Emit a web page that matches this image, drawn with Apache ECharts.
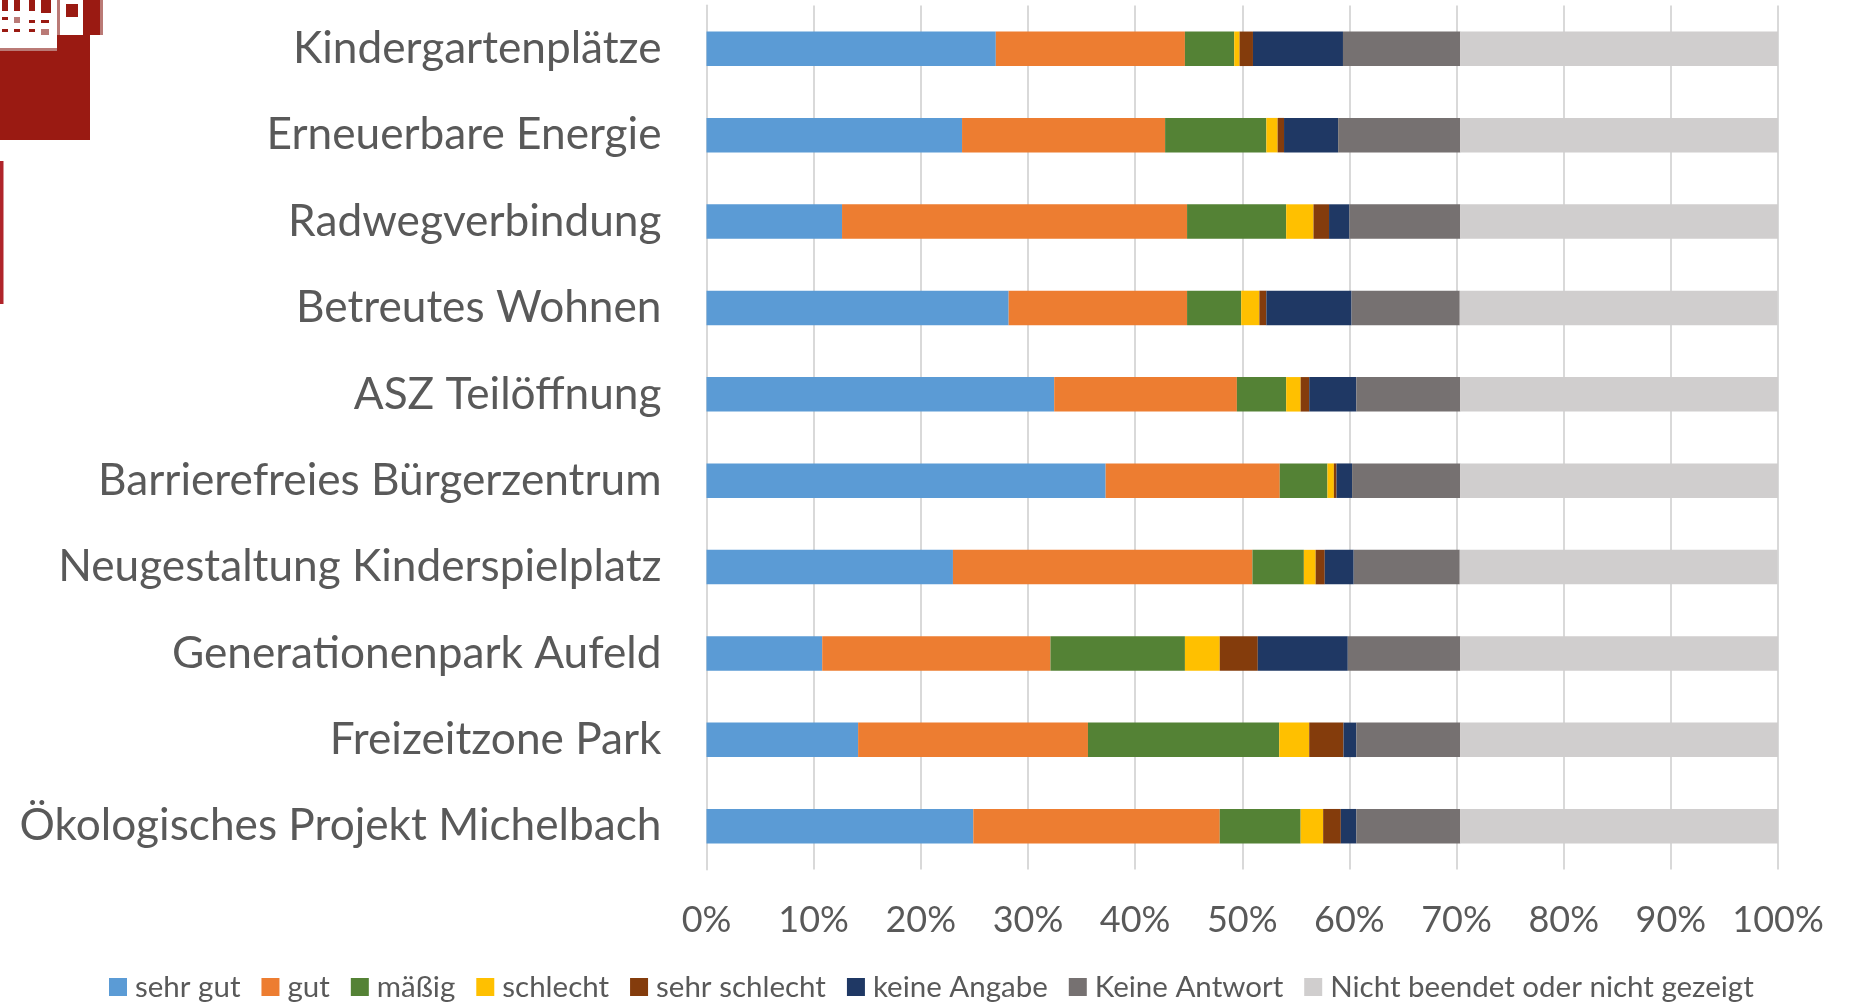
<!DOCTYPE html>
<html><head><meta charset="utf-8">
<style>html,body{margin:0;padding:0;background:#fff}#c{width:1857px;height:1004px}</style>
<script src="https://cdn.jsdelivr.net/npm/echarts@6/dist/echarts.min.js"></script>
</head><body><div id="c"></div>
<script>
const categories = ["Kindergartenplätze","Erneuerbare Energie","Radwegverbindung","Betreutes Wohnen","ASZ Teilöffnung","Barrierefreies Bürgerzentrum","Neugestaltung Kinderspielplatz","Generationenpark Aufeld","Freizeitzone Park","Ökologisches Projekt Michelbach"];
const seriesNames = ["sehr gut","gut","mäßig","schlecht","sehr schlecht","keine Angabe","Keine Antwort","Nicht beendet oder nicht gezeigt"];
const colors = ["#5b9bd5","#ed7d31","#548235","#ffc000","#843c0c","#1f3864","#767171","#d0cece"];
const sehrGut = [27.0,23.85,12.65,28.2,32.45,37.25,23.0,10.8,14.15,24.9];
const gut = [17.65,18.95,32.2,16.65,17.05,16.25,27.95,21.3,21.45,23.0];
const maessig = [4.6,9.45,9.25,5.05,4.6,4.45,4.8,12.55,17.85,7.55];
const schlecht = [0.5,1.05,2.55,1.7,1.35,0.6,1.1,3.25,2.8,2.1];
const sehrSchlecht = [1.25,0.6,1.45,0.65,0.8,0.25,0.85,3.55,3.2,1.65];
const keineAngabe = [8.4,5.05,1.9,7.95,4.4,1.45,2.7,8.4,1.2,1.45];
const keineAntwort = [10.95,11.4,10.35,10.1,9.7,10.1,9.9,10.5,9.7,9.7];
const nichtBeendet = [29.65,29.65,29.65,29.65,29.65,29.65,29.65,29.65,29.65,29.65];
const values = [sehrGut,gut,maessig,schlecht,sehrSchlecht,keineAngabe,keineAntwort,nichtBeendet];
const font = "Lato, sans-serif";
const red = "#9a1a12", pink = "#ba7a76";
const r = (x,y,w,h,fill)=>({type:"rect",shape:{x,y,width:w,height:h},style:{fill},silent:true});
const logo = [
  r(0,51,90,89,red), r(57,35,33,16,red), r(0,48,57,3,pink),
  r(83,0,17,35,red), r(100,0,3,35,pink), r(57,0,3,35,pink),
  r(66,4,12,13,red),
  r(2,0,6,11,red), r(14,0,6,11,red), r(29,0,6,11,red), r(41,0,10,13,red),
  r(2,17,6,3,red), r(14,17,6,6,pink), r(29,20,6,3,red), r(41,20,8,3,red),
  r(2,29,6,3,red), r(14,29,6,3,red), r(29,29,6,3,red), r(41,29,8,6,pink),
  r(0,161,3.5,143,"#b0242a")
];
const chart = echarts.init(document.getElementById("c"),null,{renderer:"canvas"});
chart.setOption({
  animation:false,
  backgroundColor:"#fff",
  color:colors,
  textStyle:{fontFamily:font},
  grid:{left:706.5,right:79,top:5.6,bottom:134.6,containLabel:false},
  legend:{bottom:-3,left:104,icon:"rect",itemWidth:18,itemHeight:18,itemGap:21,selectedMode:false,
    data:seriesNames,textStyle:{fontFamily:font,fontSize:29.5,color:"#595959",padding:[0,0,0,3]}},
  xAxis:{type:"value",min:0,max:100,interval:10,
    axisLabel:{formatter:"{value}%",fontSize:36,color:"#595959",margin:33,fontFamily:font},
    axisLine:{show:false},axisTick:{show:false},
    splitLine:{show:true,lineStyle:{color:"#d9d9d9",width:2}}},
  yAxis:{type:"category",inverse:true,data:categories,
    axisLabel:{fontSize:44.2,color:"#595959",margin:45,fontFamily:font},
    axisLine:{show:true,lineStyle:{color:"#d9d9d9",width:2}},axisTick:{show:false}},
  series:seriesNames.map((name,i)=>({name,type:"bar",stack:"total",barWidth:34.5,data:values[i]})),
  graphic:logo
});
</script></body></html>
